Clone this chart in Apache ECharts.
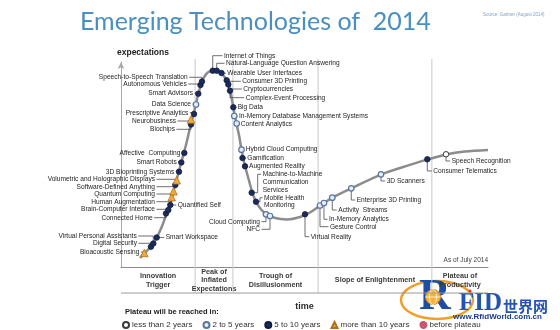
<!DOCTYPE html>
<html><head><meta charset="utf-8">
<script src="https://cdn.jsdelivr.net/npm/echarts@6/dist/echarts.min.js"></script>
<style>html,body{margin:0;padding:0;background:#fff}#c{width:560px;height:330px}</style>
</head><body><div id="c"></div>
<script>
// ---------------- data ----------------
// hype curve, x = time (0-100), y = expectations (0-100)
const curveX = [5.2,6.3,8.2,9.8,11.2,12.3,13.4,14.4,15.5,16.6,17.7,18.8,19.9,21.0,22.1,23.2,24.3,25.5,26.7,27.8,28.9,29.7,30.5,31.3,32.2,33.0,33.8,34.9,36.0,37.3,39.2,42.0,45.2,48.8,51.5,54.2,57.5,62.7,70.8,78.7,83.4,88.6,93.7,100];
const curveY = [4.4,6.6,10.0,14.6,20.0,25.4,30.7,37.6,44.9,52.2,59.5,67.8,75.6,83.9,90.7,94.1,95.6,96.2,95.6,93.7,90.7,86.3,79.0,71.2,63.9,55.6,49.3,42.0,35.1,30.2,26.3,23.9,23.2,24.4,26.6,29.8,33.7,38.3,45.1,49.8,52.4,54.9,56.3,57.1];

const techNames = ['Bioacoustic Sensing','Digital Security','Virtual Personal Assistants','Smart Workspace','Connected Home','Brain-Computer Interface','Quantified Self','Human Augmentation','Quantum Computing','Software-Defined Anything','Volumetric and Holographic Displays','3D Bioprinting Systems','Smart Robots','Affective  Computing','Biochips','Neurobusiness','Prescriptive Analytics','Data Science','Smart Advisors','Autonomous Vehicles','Speech-to-Speech Translation','Internet of Things','Natural-Language Question Answering','Wearable User Interfaces','Consumer 3D Printing','Cryptocurrencies','Complex-Event Processing','Big Data','In-Memory Database Management Systems','Content Analytics','Hybrid Cloud Computing','Gamification','Augmented Reality','Machine-to-Machine\nCommunication\nServices','Mobile Health\nMonitoring','Cloud Computing','NFC','Virtual Reality','Gesture Control','In-Memory Analytics','Activity  Streams','Enterprise 3D Printing','3D Scanners','Consumer Telematics','Speech Recognition'];
const techX = [6.35,8.17,8.80,9.73,12.26,12.89,13.43,13.81,14.31,14.80,15.18,15.80,16.43,17.25,19.07,19.07,19.89,20.44,21.06,21.66,22.07,24.99,26.08,27.38,28.80,29.24,29.70,30.60,30.87,31.53,32.83,33.11,33.79,35.61,36.78,39.51,40.60,50.14,54.22,55.31,57.57,62.75,70.84,83.46,88.56];
const techY = [6.83,9.90,11.46,14.39,26.10,27.80,30.24,34.05,36.93,40.00,42.29,46.49,50.98,55.61,69.51,71.95,74.63,79.27,84.54,88.78,90.49,95.76,95.76,94.63,91.07,89.02,86.00,77.90,73.66,70.00,57.22,53.17,49.12,36.24,31.85,25.71,24.88,25.71,30.00,31.22,33.80,38.39,45.22,52.54,54.98];
// 0 = less than 2 years, 1 = 2 to 5, 2 = 5 to 10, 3 = more than 10
const techPlateau = [3,2,2,2,2,2,2,3,3,2,3,2,2,2,2,3,2,1,2,2,2,2,2,2,2,2,2,2,1,1,1,2,2,2,2,1,1,2,1,1,1,1,1,2,0];

const plateauLabels = ['less than 2 years','2 to 5 years','5 to 10 years','more than 10 years','before plateau'];
const phaseNames = ['Innovation\nTrigger','Peak of\nInflated\nExpectations','Trough of\nDisillusionment','Slope of Enlightenment','Plateau of\nProductivity'];
const phaseBounds = [0,20.2,30.5,53.7,84.7,100];

// ---------------- layout (pixel offsets of the labels from their points) ----------------
const labelDx = [-5,-14,-16.6,9,-13.3,-13.3,7.4,-16.7,-18.5,-20.3,-21.7,-4.7,-4.6,-4,-16,-15,-5.7,-5,-5.3,-13.8,-14.3,11.3,9.3,5.8,15.6,15,15.7,4.4,4.7,4,4.2,4.8,4,11,8,-6,-10,5.7,10,5,6,5.4,5.7,6,5.7];
const labelDy = [-1,-3.4,-7.5,0,4.2,-0.7,0,4.5,2.7,1.7,-1,0,-0.8,-0.3,4.8,1.5,-1.3,-0.5,-0.4,-1,-4.2,-15,-7.4,0.3,1,4.5,7,0,0,0.5,-0.4,0,0,-18.4,-4,7.4,13.3,22.4,21.2,16.3,12.3,11.7,6.7,11.7,6.7];
const labelElbow = {33:6, 34:4};

const FONT = '"Liberation Sans", Arial, sans-serif';
const LH = 7.7;

const catStyle = [
  {symbol:'circle', size:5.5, color:'#ffffff', border:'#3a3a3a', bw:1},
  {symbol:'circle', size:5.5, color:'#e6edf7', border:'#5877a3', bw:1.2},
  {symbol:'circle', size:5.5, color:'#1b2b5c', border:'#101c40', bw:0.8},
  {symbol:'triangle', size:7.5, color:'#f2a93b', border:'#b06f1c', bw:0.8},
  {symbol:'path://M50,2A48,48,0,1,1,49.9,2ZM22,22L78,78M78,22L22,78', size:6, color:'#f4bcc6', border:'#c4566e', bw:1}
];

const scatterSeries = plateauLabels.map((name,k)=>({
  type:'scatter', name, z:5,
  symbol: catStyle[k].symbol, symbolSize: catStyle[k].size,
  itemStyle:{color:catStyle[k].color, borderColor:catStyle[k].border, borderWidth:catStyle[k].bw, opacity:1},
  data: techX.map((x,i)=>techPlateau[i]===k ? [x, techY[i]] : null).filter(d=>d!==null),
  silent:true
}));

function renderLabel(params, api){
  const i = api.value(2);
  const p = api.coord([api.value(0), api.value(1)]);
  const dx = labelDx[i], dy = labelDy[i], ex = labelElbow[i] || 0;
  const tx = p[0]+dx, ty = p[1]+dy;
  const left = dx < 0;
  const pts = [[p[0],p[1]],[p[0]+ex,p[1]],[p[0]+ex,ty],[tx + (left?1.5:-1.5), ty]];
  return {type:'group', children:[
    {type:'polyline', shape:{points:pts}, style:{stroke:'#4a4a4a', lineWidth:0.8, fill:null}},
    {type:'text', style:{text:techNames[i], x:tx, y:ty-LH/2, align:left?'right':'left', verticalAlign:'top', lineHeight:LH, font:'6.6px '+FONT, fill:'#1e1e1e'}}
  ]};
}

function renderPhase(params, api){
  const i = api.value(2);
  const a = api.coord([api.value(0), 0]);
  const b = api.coord([api.value(1), 0]);
  const top = api.coord([api.value(0), 100])[1];
  const boxBottom = a[1] + 26;
  const ch = [
    {type:'line', shape:{x1:a[0], y1:boxBottom, x2:b[0], y2:boxBottom}, style:{stroke:'#9a9a9a', lineWidth:1}},
    {type:'text', style:{text:phaseNames[i], x:(a[0]+b[0])/2, y:a[1]+13.5, align:'center', verticalAlign:'middle', lineHeight:8.3, font:'bold 7.2px '+FONT, fill:'#3a3a3a'}}
  ];
  if (i < phaseNames.length-1) ch.push({type:'line', shape:{x1:b[0], y1:top-3, x2:b[0], y2:boxBottom}, style:{stroke:'#c8c8c8', lineWidth:1}});
  return {type:'group', children:ch};
}

const chart = echarts.init(document.getElementById('c'), null, {renderer:'canvas'});
chart.setOption({
  animation:false,
  backgroundColor:'#ffffff',
  title:{text:'Emerging Technologies of  2014', left:75, top:4, textStyle:{fontSize:25, fontWeight:'normal', color:'#4a8fc0', fontFamily:'Lato'}},
  grid:{left:121, right:72, top:62, bottom:63, containLabel:false, outerBoundsMode:'none'},
  xAxis:{type:'value', min:0, max:100, axisLine:{show:true, lineStyle:{color:'#8a8a8a', width:1}}, axisTick:{show:false}, axisLabel:{show:false}, splitLine:{show:false},
    name:'time', nameLocation:'middle', nameGap:35, nameTextStyle:{fontWeight:'bold', fontSize:9, color:'#2a2a2a', fontFamily:FONT}},
  yAxis:{type:'value', min:0, max:100, axisLine:{show:true, symbol:['none','arrow'], symbolSize:[5,7], lineStyle:{color:'#a8a8a8', width:1}}, axisTick:{show:false}, axisLabel:{show:false}, splitLine:{show:false},
    name:'expectations', nameLocation:'end', nameGap:5, nameTextStyle:{fontWeight:'bold', fontSize:8.5, color:'#222', fontFamily:FONT, align:'left', padding:[0,0,0,-4]}},
  legend:{data:plateauLabels, left:122, top:321, padding:0, itemWidth:6, itemHeight:6, itemGap:10, selectedMode:false,
    textStyle:{fontSize:8, color:'#333', fontFamily:FONT, padding:[0,0,0,-2]}},
  series:[
    {type:'custom', name:'phases', renderItem:renderPhase, data:phaseNames.map((n,i)=>[phaseBounds[i], phaseBounds[i+1], i]), z:1, silent:true, clip:false},
    {type:'line', name:'curve', data:curveX.map((x,i)=>[x, curveY[i]]), smooth:0.3, symbol:'none', lineStyle:{color:'#8c8c8c', width:2.5}, z:2, silent:true},
    {type:'custom', name:'labels', renderItem:renderLabel, data:techX.map((x,i)=>[x, techY[i], i]), z:3, silent:true, clip:false},
    ...scatterSeries
  ],
  graphic:[
    {type:'text', x:483, y:15, style:{text:'Source: Gartner (August 2014)', font:'4.5px '+FONT, fill:'#7fa4c4', verticalAlign:'middle'}},
    {type:'text', x:488, y:260, style:{text:'As of July 2014', font:'6.5px '+FONT, fill:'#444', align:'right', verticalAlign:'middle'}},
    {type:'text', x:125, y:312, style:{text:'Plateau will be reached in:', font:'bold 7.5px '+FONT, fill:'#222', verticalAlign:'middle'}},
    {type:'group', z:100, children:[
      {type:'ellipse', shape:{cx:437, cy:300, rx:36, ry:19}, style:{fill:null, stroke:'#f0a02a', lineWidth:2.5}},
      {type:'text', x:419, y:320, style:{text:'R', font:'bold 44px "Liberation Serif", serif', fill:'#1d4da6', verticalAlign:'bottom'}},
      {type:'circle', shape:{cx:433, cy:297, r:7.5}, style:{fill:'#f7b331', stroke:'#d9801a', lineWidth:1}},
      {type:'ellipse', shape:{cx:433, cy:297, rx:3.5, ry:7.5}, style:{fill:null, stroke:'#ffffff', lineWidth:0.8}},
      {type:'line', shape:{x1:425.5, y1:297, x2:440.5, y2:297}, style:{stroke:'#ffffff', lineWidth:0.8}},
      {type:'circle', shape:{cx:470, cy:291, r:1.5}, style:{fill:'#e0302a'}},
      {type:'text', x:459, y:316, style:{text:'FID', font:'bold 25px "Liberation Serif", serif', fill:'#2453b0', verticalAlign:'bottom'}},
      {type:'text', x:503, y:314, style:{text:'世界网', font:'bold 15px "Noto Sans CJK SC"', fill:'#2453b0', verticalAlign:'bottom'}},
      {type:'text', x:453, y:317, style:{text:'www.RfidWorld.com.cn', font:'bold 8px '+FONT, fill:'#1a3a8c', verticalAlign:'middle'}}
    ]}
  ]
});
</script></body></html>
